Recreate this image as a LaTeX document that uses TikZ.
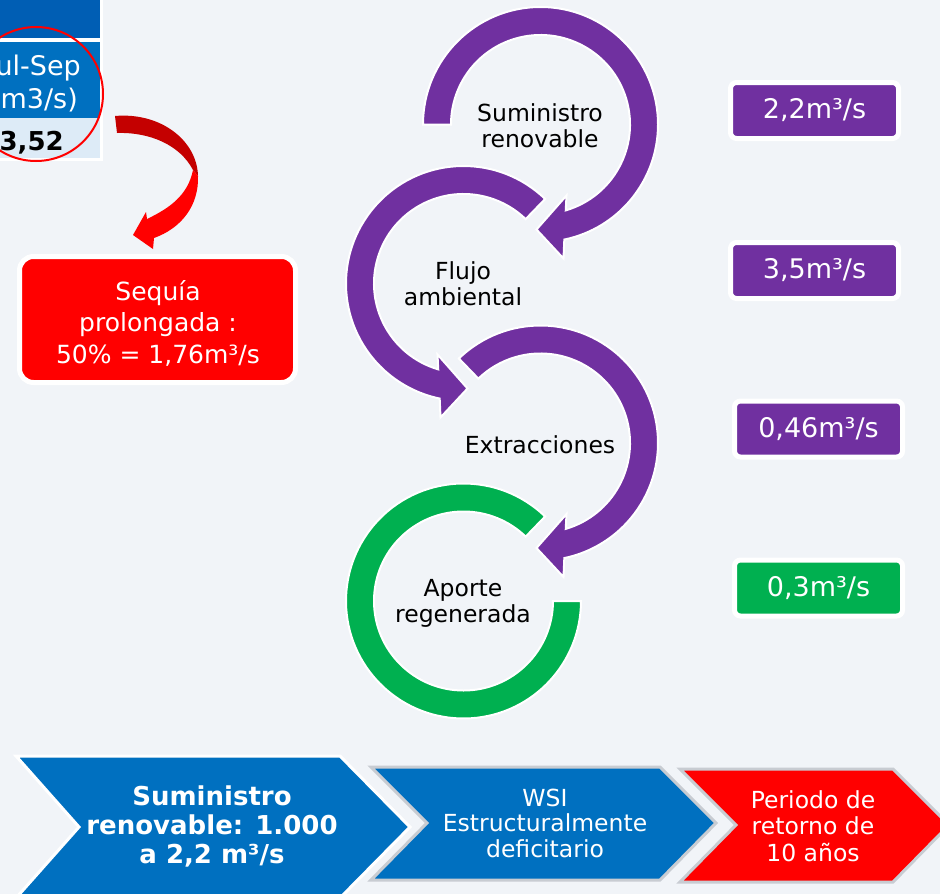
\documentclass[tikz,border=0pt]{standalone}
\usepackage{fontspec}
\setmainfont{DejaVu Sans}
\usetikzlibrary{calc}
\definecolor{bgc}{RGB}{241,244,248}
\definecolor{purp}{RGB}{112,48,160}
\definecolor{grn}{RGB}{0,176,80}
\definecolor{blu}{RGB}{0,112,192}
\definecolor{dblu}{RGB}{0,94,180}
\definecolor{lblu}{RGB}{221,235,247}
\definecolor{dred}{RGB}{196,0,0}
\definecolor{chgray}{RGB}{200,204,210}
\begin{document}
\begin{tikzpicture}[x=1pt,y=1pt,
  ring/.style={draw=white, line width=2pt, line join=miter},
  lbl/.style={font=\fontsize{23.5}{26}\selectfont, align=center, inner sep=0pt, text=black},
  valbox/.style={rounded corners=6pt, draw=white, line width=5pt, minimum width=168pt, minimum height=56pt, text=white, font=\fontsize{27}{30}\selectfont, inner sep=0pt},
  tabtxt/.style={font=\fontsize{27}{30}\selectfont, inner sep=0pt},
  chevtxt/.style={text=white, align=center, inner sep=0pt}
]
\useasboundingbox (0,0) rectangle (940,-894);
\fill[bgc] (0,0) rectangle (940,-894);
\clip (0,0) rectangle (940,-894);

% table fragment
\fill[dblu] (-5,5) rectangle (100,-38);
\fill[white] (-5,-38) rectangle (100,-42);
\fill[blu] (-5,-42) rectangle (100,-117.5);
\fill[lblu] (-5,-117.5) rectangle (100,-158);
\fill[white] (100,5) rectangle (103,-161);
\fill[white] (-5,-158) rectangle (103,-161);
\node[tabtxt, text=white, anchor=base east] (jul) at (81,-75) {Jul-Sep};
\node[tabtxt, text=white, anchor=base east] (unit) at (78,-108) {(m3/s)};
\node[tabtxt, font=\fontsize{26}{28}\selectfont\bfseries, text=black, anchor=base east] (v352) at (64,-150) {3,52};
\node[circle, draw=red, line width=2pt, minimum size=134pt, inner sep=0pt] (hl) at (36,-94) {};

% red curved arrow
\fill[dred] (115,-116) .. controls (160,-112) and (197,-140) .. (198,-176) -- (193,-170) .. controls (180,-145) and (150,-132) .. (117,-133) -- cycle;
\fill[red] (198,-176) .. controls (199,-205) and (182,-228) .. (154,-238) -- (153,-249) -- (133,-235) -- (146,-212) -- (147,-219) .. controls (170,-208) and (188,-195) .. (193,-170) -- cycle;

% Sequia box
\node[rounded corners=14pt, fill=red, draw=white, line width=5pt, minimum width=276pt, minimum height=126pt, inner sep=0pt] (seqbox) at (157.5,-319.5) {};
\node[text=white, align=center, inner sep=0pt, font=\fontsize{25}{31.5}\selectfont] (seqtxt) at (158,-323) {Sequía\\prolongada :\\50\% = 1,76m³/s};

% circular arrows
\begin{scope}[shift={(540.5,-124.5)}]
\filldraw[ring, fill=purp] (180:117.5) arc[start angle=180, end angle=-78.3, radius=117.5] -- (23,-134) -- (-4,-105) -- (26,-71) -- (-73.6:89.5) arc[start angle=-73.6, end angle=180, radius=89.5] -- cycle;
\end{scope}
\begin{scope}[shift={(463.5,-283.5)}]
\filldraw[ring, fill=purp] (46:117.5) arc[start angle=46, end angle=258.3, radius=117.5] -- (-23,-134) -- (4,-105) -- (-26,-71) -- (253.6:89.5) arc[start angle=253.6, end angle=46, radius=89.5] -- cycle;
\end{scope}
\begin{scope}[shift={(540.5,-443)}]
\filldraw[ring, fill=purp] (134:117.5) arc[start angle=134, end angle=-78.3, radius=117.5] -- (23,-134) -- (-4,-105) -- (26,-71) -- (-73.6:89.5) arc[start angle=-73.6, end angle=134, radius=89.5] -- cycle;
\end{scope}
\begin{scope}[shift={(463.5,-601)}]
\filldraw[ring, fill=grn] (46:117.5) arc[start angle=46, end angle=360, radius=117.5] -- (0:89.5) arc[start angle=360, end angle=46, radius=89.5] -- cycle;
\end{scope}

\node[lbl] (c1) at (540,-126) {Suministro\\renovable};
\node[lbl] (c2) at (463,-284) {Flujo\\ambiental};
\node[lbl] (c3) at (540,-445) {Extracciones};
\node[lbl] (c4) at (463,-603) {Aporte\\regenerada};

% value boxes
\node[valbox, fill=purp] (v1) at (814.5,-110.5) {2,2m³/s};
\node[valbox, fill=purp] (v2) at (814.5,-270.5) {3,5m³/s};
\node[valbox, fill=purp] (v3) at (818.5,-429) {0,46m³/s};
\node[valbox, fill=grn] (v4) at (818.5,-588) {0,3m³/s};

% chevrons
\filldraw[fill=blu, draw=white, line width=3pt, line join=miter] (16,-756) -- (340,-756) -- (410,-827) -- (340,-898) -- (16,-898) -- (79,-827) -- cycle;
\filldraw[fill=blu, draw=chgray, line width=3pt, line join=miter] (371,-767) -- (660,-767) -- (716,-823) -- (660,-880) -- (371,-880) -- (427,-823) -- cycle;
\filldraw[fill=red, draw=chgray, line width=3pt, line join=miter] (680,-769) -- (893,-769) -- (949,-825) -- (893,-882) -- (680,-882) -- (736,-825) -- cycle;

\node[chevtxt, font=\fontsize{26}{29}\selectfont\bfseries] (ch1) at (212,-826) {Suministro\\renovable: 1.000\\a 2,2 m³/s};
\node[chevtxt, font=\fontsize{23.5}{25.5}\selectfont] (ch2) at (545,-823) {WSI\\Estructuralmente\\deficitario};
\node[chevtxt, font=\fontsize{23.5}{26.5}\selectfont] (ch3) at (813,-826) {Periodo de\\retorno de\\10 años};
\end{tikzpicture}
\end{document}
